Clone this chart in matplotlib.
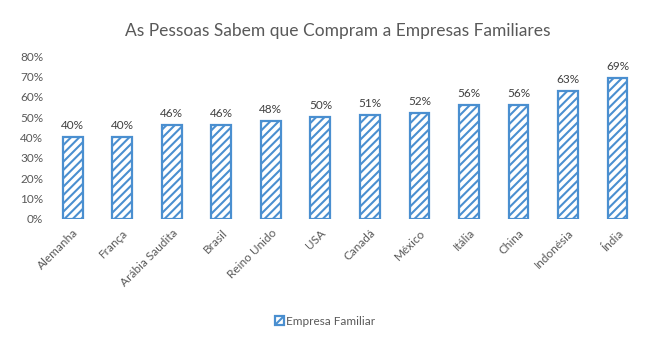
import matplotlib
matplotlib.use("Agg")
import matplotlib.pyplot as plt
from matplotlib.ticker import PercentFormatter

# === dados ===
paises = ["Alemanha", "França", "Arábia Saudita", "Brasil", "Reino Unido", "USA",
          "Canadá", "México", "Itália", "China", "Indonésia", "Índia"]
valores = [40, 40, 46, 46, 48, 50, 51, 52, 56, 56, 63, 69]
titulo = "As Pessoas Sabem que Compram a Empresas Familiares"
serie = "Empresa Familiar"

plt.rcParams['font.family'] = ['Lato', 'DejaVu Sans']
plt.rcParams['hatch.linewidth'] = 1.5
plt.rcParams['hatch.color'] = '#1566B5'

fig = plt.figure(figsize=(6.5, 3.42), dpi=100)
ax = fig.add_axes([0.074, 0.360, 0.914, 0.476])

x = range(len(paises))
bars = ax.bar(x, valores, width=0.4, facecolor='white', edgecolor='#4A8FD0',
              linewidth=1.6, hatch='////', label=serie)
for xi, v in zip(x, valores):
    ax.text(xi, v + 3, f"{v}%", ha='center', va='bottom', fontsize=8.5, color='#404040')

ax.set_xlim(-0.5, len(paises) - 0.5)
ax.set_ylim(0, 80)
ax.set_yticks(range(0, 81, 10))
ax.yaxis.set_major_formatter(PercentFormatter(decimals=0))
ax.set_xticks(list(x))
ax.set_xticklabels(paises, rotation=45, ha='right', rotation_mode='anchor')
ax.tick_params(axis='both', length=0, labelsize=8.5, colors='#595959')
ax.tick_params(axis='x', pad=6)
for s in ax.spines.values():
    s.set_visible(False)

fig.text(0.52, 0.91, titulo, ha='center', va='center', fontsize=12.5, color='#595959')
fig.legend(handles=[bars], labels=[serie], loc='center', bbox_to_anchor=(0.5, 0.06),
           frameon=False, fontsize=8.5, handlelength=0.8, handleheight=0.8,
           handletextpad=0.2, labelcolor='#595959')

fig.savefig("out.png", dpi=100)
